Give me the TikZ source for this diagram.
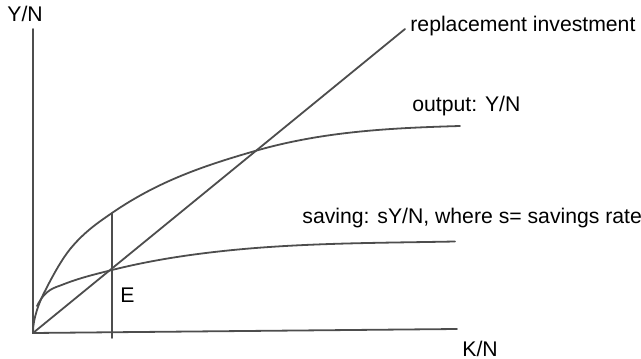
\documentclass[tikz,border=0pt]{standalone}
\usepackage{fontspec}
\setmainfont{Liberation Sans}
\definecolor{Pencil}{HTML}{4D4D4D}

\begin{document}
\begin{tikzpicture}[
      x=0.5pt, y=0.5pt,
      curve/.style={draw=Pencil, line width=0.9pt, line cap=round},
      lbl/.style={inner sep=0pt, anchor=base west, text=black,
                  font=\fontsize{10.6}{12}\selectfont}
    ]
      \useasboundingbox (0,0) rectangle (641,358);

      % axes
      \coordinate (O) at (33,25);
      \coordinate (ytop) at (33,329);
      \coordinate (xend) at (457,29);
      \draw[curve] (ytop) -- (O) -- (xend);

      % replacement investment
      \coordinate (rtop) at (405,329);
      \draw[curve] (O) -- (rtop);

      % output: Y/N
      \coordinate (Etop) at (112,145);
      \draw[curve] (33,26) .. controls (33,40) and (39.7,56.3) .. (43,63)
        .. controls (52.3,81.7) and (61.7,98.8) .. (71,110)
        .. controls (84.7,126.4) and (98.3,135.6) .. (Etop)
        .. controls (159.7,177.9) and (207.3,193.2) .. (255,207)
        .. controls (323.3,226.8) and (391.7,230) .. (460,232);

      % saving: sY/N
      \coordinate (E) at (112,88);
      \draw[curve] (37,52) .. controls (45.7,69.3) and (54.3,70) .. (63,73.5)
        .. controls (79.3,80) and (95.7,83.9) .. (E)
        .. controls (144.7,96.2) and (177.3,101.6) .. (210,105.5)
        .. controls (291.7,115.3) and (373.3,114.9) .. (455,116.5);

      % steady state
      \coordinate (Ebot) at (112,20);
      \draw[curve] (Etop) -- (Ebot);

      \node[lbl] (yl) at (7,336) {Y/N};
      \node[lbl] (xl) at (462,2) {K/N};
      \node[lbl] (rl) at (410,326) {replacement investment};
      \node[lbl] (ol) at (412,246) {output: Y/N};
      \node[lbl] (sl) at (302,134) {saving: sY/N, where s= savings rate};
      \node[lbl] (el) at (120,55) {E};
    \end{tikzpicture}
\end{document}
